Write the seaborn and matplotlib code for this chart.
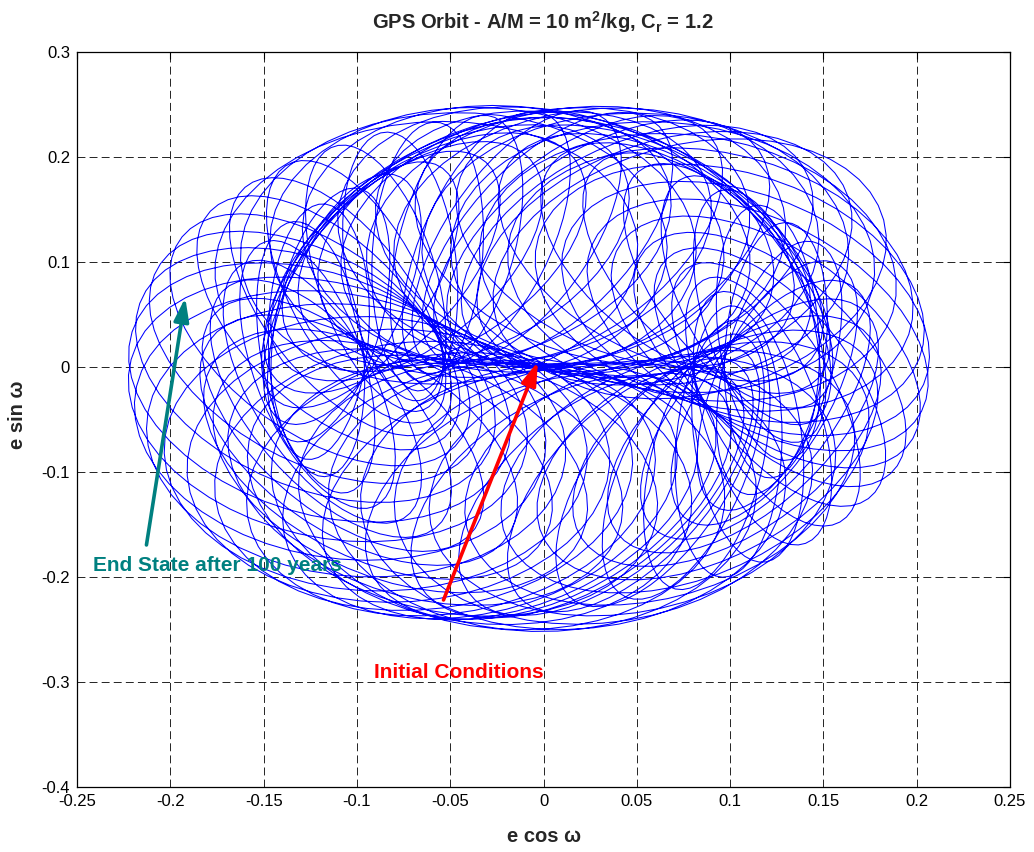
import numpy as np
import pandas as pd
import matplotlib
matplotlib.use("Agg")
import matplotlib.pyplot as plt
import seaborn as sns
from matplotlib import font_manager
from matplotlib.ticker import FixedLocator, FixedFormatter

# ---------------------------------------------------------------------------
# Satellite and orbit (values from the title)
# ---------------------------------------------------------------------------
area_to_mass = 10.0          # A/M  [m^2/kg]
reflectivity = 1.2           # C_r
semi_major_km = 26560.0      # GPS semi-major axis
inclination_deg = 55.0       # GPS inclination
span_years = 100.0           # propagation span
output_step_days = 7         # sampling of the plotted trajectory

# Eccentricity vector (e cos w, e sin w) at the start and at the end
initial_state = [-0.003, 0.005]
end_state = [-0.192, 0.066]

# Extent of the trajectory: e cos w min/max, e sin w min/max
ecos_range = [-0.221, 0.211]
esin_range = [-0.208, 0.228]

# Annotation tails and label anchors
end_tail = [-0.2128, -0.1695]
end_label = [-0.2412, -0.1886]
init_tail = [-0.0536, -0.2219]
init_label = [-0.0911, -0.2914]

# Axes
x_ticks = [-0.25, -0.2, -0.15, -0.1, -0.05, 0, 0.05, 0.1, 0.15, 0.2, 0.25]
x_tick_labels = ["-0.25", "-0.2", "-0.15", "-0.1", "-0.05", "0", "0.05", "0.1", "0.15", "0.2", "0.25"]
y_ticks = [-0.4, -0.3, -0.2, -0.1, 0, 0.1, 0.2, 0.3]
y_tick_labels = ["-0.4", "-0.3", "-0.2", "-0.1", "0", "0.1", "0.2", "0.3"]

# ---------------------------------------------------------------------------
# Mean-element propagation: solar radiation pressure + J2 secular rates
# ---------------------------------------------------------------------------
MU = 3.986004418e14
R_EARTH = 6378137.0
J2 = 1.08263e-3
P_SUN = 4.56e-6
OBLIQUITY = np.radians(23.44)
DAY = 86400.0
YEAR = 365.2422

a = semi_major_km * 1e3
n = np.sqrt(MU / a**3)
inc = np.radians(inclination_deg)
k_srp = 1.5 * reflectivity * area_to_mass * P_SUN / (n * a) * DAY   # 1/day
j2_fac = 1.5 * n * J2 * (R_EARTH / a) ** 2 * DAY
node_rate = -j2_fac * np.cos(inc)
peri_rate = j2_fac * (2.0 - 2.5 * np.sin(inc) ** 2)
sun_rate = 2.0 * np.pi / YEAR

T = span_years * YEAR
n_days = int(round(T))
t = np.linspace(0.0, T, n_days + 1)
dt = t[1] - t[0]
z0 = initial_state[0] + 1j * initial_state[1]
rot = np.exp(-1j * peri_rate * t)
c_sun, s_sun = np.cos(sun_rate * t), np.sin(sun_rate * t)


def plane_terms(node0):
    node = node0 + node_rate * t
    A = np.cos(node) - 1j * np.cos(inc) * np.sin(node)
    B = (np.cos(OBLIQUITY) * np.sin(node)
         + 1j * (np.cos(inc) * np.cos(node) * np.cos(OBLIQUITY) + np.sin(inc) * np.sin(OBLIQUITY)))
    return A, B


def trajectory(node0, lam0, k):
    A, B = plane_terms(node0)
    lam = lam0 + sun_rate * t
    f = rot * (-1j * k) * (np.cos(lam) * A + np.sin(lam) * B)
    cum = np.concatenate([[0.0], np.cumsum(0.5 * (f[1:] + f[:-1]) * dt)])
    return np.exp(1j * peri_rate * t) * (z0 + cum)


# Forcing integrals over the whole span for each epoch node (linear in cos/sin of the solar longitude)
node_grid = np.radians(np.arange(0.0, 360.0, 0.5))
lam_grid = np.radians(np.arange(0.0, 360.0, 0.5))
Ic = np.empty(len(node_grid), complex)
Is = np.empty(len(node_grid), complex)
for i, node0 in enumerate(node_grid):
    A, B = plane_terms(node0)
    Ic[i] = np.trapezoid(rot * (c_sun * A + s_sun * B), dx=dt)
    Is[i] = np.trapezoid(rot * (c_sun * B - s_sun * A), dx=dt)
forcing = np.cos(lam_grid)[None, :] * Ic[:, None] + np.sin(lam_grid)[None, :] * Is[:, None]
target = end_state[0] + 1j * end_state[1]
spin = np.exp(1j * peri_rate * T)

# Effective pressure scale and epoch phases: end state reached, extents spanned
best = None
for scale in np.arange(0.95, 1.40, 0.01):
    k = scale * k_srp
    err = np.abs(spin * (z0 - 1j * k * forcing) - target)
    i, j = np.unravel_index(np.argmin(err), err.shape)
    zz = trajectory(node_grid[i], lam_grid[j], k)
    ext = np.array([zz.real.min(), zz.real.max(), zz.imag.min(), zz.imag.max()])
    score = np.sum((ext - np.array(ecos_range + esin_range)) ** 2) + 4 * err[i, j] ** 2
    if best is None or score < best[0]:
        best = (score, node_grid[i], lam_grid[j], k)
_, node0, lam0, k_eff = best
z = trajectory(node0, lam0, k_eff)

idx = np.arange(0, len(t), output_step_days)
if idx[-1] != len(t) - 1:
    idx = np.append(idx, len(t) - 1)
orbit = pd.DataFrame({"ecos": z.real[idx], "esin": z.imag[idx], "step": np.arange(len(idx))})

# ---------------------------------------------------------------------------
# Figure
# ---------------------------------------------------------------------------
sns.set_theme(style="white")
installed = {fe.name for fe in font_manager.fontManager.ttflist}
narrow = "Liberation Sans Narrow" if "Liberation Sans Narrow" in installed else "Liberation Sans"
plt.rcParams["font.family"] = ["Liberation Sans", "DejaVu Sans"]
plt.rcParams["mathtext.fontset"] = "custom"
plt.rcParams["mathtext.rm"] = "Liberation Sans"
plt.rcParams["mathtext.bf"] = "Liberation Sans:bold"
plt.rcParams["mathtext.it"] = "Liberation Sans:italic"

fig = plt.figure(figsize=(10.34, 8.52), dpi=100)
ax = fig.add_axes([0.0745, 0.0763, 0.9023, 0.8627])

sns.lineplot(data=orbit, x="ecos", y="esin", sort=False, estimator=None,
             color="#0000ff", lw=0.75, ax=ax, zorder=3)

ax.set_xlim(-0.25, 0.25)
ax.set_ylim(-0.4, 0.3)
ax.xaxis.set_major_locator(FixedLocator(x_ticks))
ax.xaxis.set_major_formatter(FixedFormatter(x_tick_labels))
ax.yaxis.set_major_locator(FixedLocator(y_ticks))
ax.yaxis.set_major_formatter(FixedFormatter(y_tick_labels))
ax.tick_params(direction="in", top=True, right=True, length=5, width=0.8,
               colors="black", labelsize=12, pad=5)
for lab in ax.get_xticklabels() + ax.get_yticklabels():
    lab.set_fontfamily([narrow, "DejaVu Sans"])

ax.set_axisbelow(True)
ax.grid(True, color="black", lw=0.6, linestyle=(0, (9.5, 5)))
for sp in ax.spines.values():
    sp.set_visible(True)
    sp.set_color("black")
    sp.set_linewidth(0.9)

ax.set_xlabel("e cos ω", fontsize=14.5, fontweight="bold", va="center")
ax.set_ylabel("e sin ω", fontsize=14.5, fontweight="bold", va="center", ha="center")
ax.xaxis.set_label_coords(0.5, -0.0667)
ax.yaxis.set_label_coords(-0.064, 0.506)

fig.text(543 / 1034, 1 - 22 / 852,
         r"GPS Orbit - A/M = 10 m$^{\mathbf{2}}$/kg, C$_{\mathbf{r}}$ = 1.2",
         ha="center", va="center", fontsize=14.5, fontweight="bold")

teal = "#008080"
ax.annotate("", xy=end_state, xytext=end_tail,
            arrowprops=dict(arrowstyle="-|>,head_length=14,head_width=4.5",
                            mutation_scale=1, color=teal, lw=2.6,
                            shrinkA=0, shrinkB=0), zorder=5)
ax.text(end_label[0], end_label[1], "End State after 100 years", color=teal,
        fontsize=15, fontweight="bold", ha="left", va="center", zorder=6)

ax.annotate("", xy=initial_state, xytext=init_tail,
            arrowprops=dict(arrowstyle="-|>,head_length=14,head_width=4.5",
                            mutation_scale=1, color="#ff0000", lw=2.6,
                            shrinkA=0, shrinkB=0), zorder=5)
ax.text(init_label[0], init_label[1], "Initial Conditions", color="#ff0000",
        fontsize=15, fontweight="bold", ha="left", va="center", zorder=6)

fig.savefig("out.png", dpi=100, facecolor="white")
